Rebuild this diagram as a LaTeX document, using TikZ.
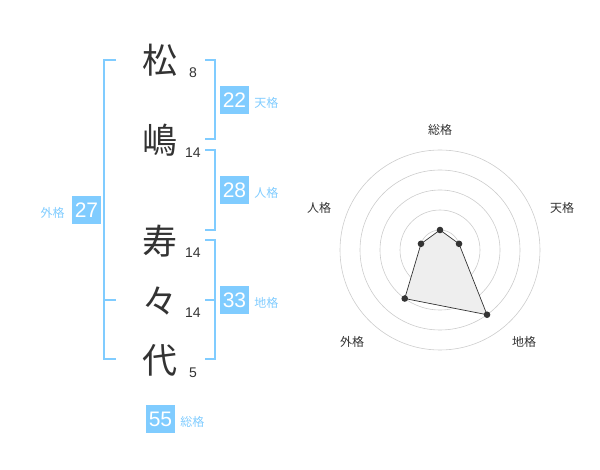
\documentclass[tikz,border=0pt]{standalone}
\usepackage{fontspec}
\setmainfont{Noto Sans CJK JP}
\newfontfamily\digitfont{Liberation Sans}
\usetikzlibrary{positioning,calc}
\definecolor{kakublue}{RGB}{128,204,255}
\definecolor{inkgray}{RGB}{51,51,51}
\definecolor{ringgray}{RGB}{204,204,204}
\definecolor{areagray}{RGB}{238,238,238}
\tikzset{
  kanji/.style={font=\fontsize{35}{35}\selectfont,text=inkgray,inner sep=0pt},
  strokes/.style={font=\digitfont\fontsize{14}{14}\selectfont,text=inkgray,inner sep=0pt},
  kakubox/.style={fill=kakublue,text=white,minimum width=29pt,minimum height=28pt,
    inner sep=0pt,font=\digitfont\fontsize{21}{21}\selectfont},
  kakulabel/.style={text=kakublue,font=\fontsize{12}{12}\selectfont,inner sep=0pt},
  bracket/.style={draw=kakublue,line width=2pt},
  axislabel/.style={text=inkgray,font=\fontsize{12}{12}\selectfont,inner sep=0pt}
}
\begin{document}
\begin{tikzpicture}[x=1pt,y=1pt]
  \useasboundingbox (0,0) rectangle (600,-470);
  % name and stroke counts
  \node[kanji] (matsu) at (160,-60) {松};
  \node[kanji] (shima) at (160,-140) {嶋};
  \node[kanji] (su) at (160,-241) {寿};
  \node[kanji] (noma) at (160,-301) {々};
  \node[kanji] (yo) at (160,-360) {代};
  \node[strokes] (matsucount) at (193,-73) {8};
  \node[strokes] (shimacount) at (193,-153) {14};
  \node[strokes] (sucount) at (193,-253) {14};
  \node[strokes] (nomacount) at (193,-313) {14};
  \node[strokes] (yocount) at (193,-373) {5};
  % brackets
  \draw[bracket] (116,-60) -- (104,-60) -- (104,-359) -- (116,-359);
  \draw[bracket] (104,-300) -- (116,-300);
  \draw[bracket] (205,-60) -- (215,-60) -- (215,-139.5) -- (205,-139.5);
  \draw[bracket] (205,-150) -- (215,-150) -- (215,-230) -- (205,-230);
  \draw[bracket] (205,-240) -- (215,-240) -- (215,-359) -- (205,-359);
  \draw[bracket] (205,-300) -- (215,-300);
  % kaku values
  \node[kakubox] (tenbox) at (234.5,-100) {22};
  \node[kakulabel,right=5pt of tenbox,yshift=-3pt] (tenlabel) {天格};
  \node[kakubox] (jinbox) at (234.5,-190) {28};
  \node[kakulabel,right=5pt of jinbox,yshift=-3pt] (jinlabel) {人格};
  \node[kakubox] (chibox) at (234.5,-300) {33};
  \node[kakulabel,right=5pt of chibox,yshift=-3pt] (chilabel) {地格};
  \node[kakubox] (gaibox) at (86.5,-210) {27};
  \node[kakulabel,left=7pt of gaibox,yshift=-3pt] (gailabel) {外格};
  \node[kakubox] (soubox) at (160.5,-419) {55};
  \node[kakulabel,right=5pt of soubox,yshift=-3pt] (soulabel) {総格};
  % radar chart
  \coordinate (radar) at (440,-250);
  \foreach \ringradius in {20,40,60,80,100}
    \draw[ringgray,line width=0.6pt] (radar) circle (\ringradius);
  \fill[ringgray] (radar) circle (3);
  \draw[fill=areagray,draw=inkgray,line width=0.7pt]
    ($(radar)+(90:20)$) -- ($(radar)+(18:20)$) -- ($(radar)+(-54:80)$)
    -- ($(radar)+(-126:60)$) -- ($(radar)+(162:20)$) -- cycle;
  \foreach \axisangle/\axisradius in {90/20,18/20,-54/80,-126/60,162/20}
    \fill[inkgray] ($(radar)+(\axisangle:\axisradius)$) circle (3.3);
  \node[axislabel] (souaxis) at (440,-130) {総格};
  \node[axislabel] (tenaxis) at (562,-208) {天格};
  \node[axislabel] (chiaxis) at (524,-342) {地格};
  \node[axislabel] (gaiaxis) at (352,-342) {外格};
  \node[axislabel] (jinaxis) at (319,-208) {人格};
\end{tikzpicture}
\end{document}
